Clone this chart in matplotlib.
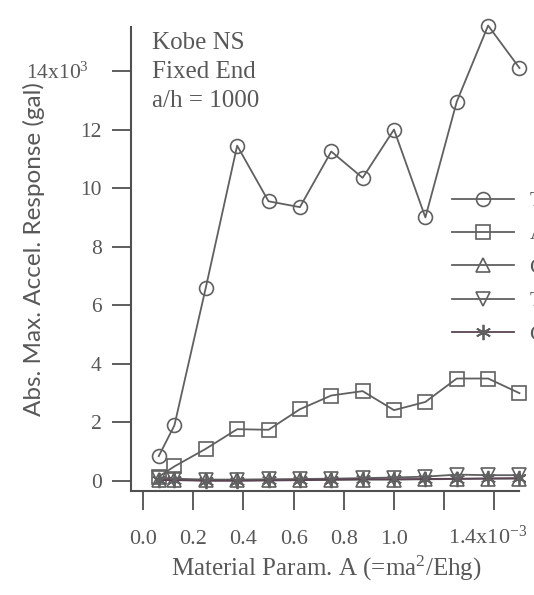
import numpy as np
import matplotlib
matplotlib.use('Agg')
import matplotlib.pyplot as plt
from matplotlib.transforms import ScaledTranslation

plt.rcParams['font.family'] = ['Liberation Serif', 'DejaVu Serif']
plt.rcParams['mathtext.fontset'] = 'custom'
plt.rcParams['mathtext.rm'] = 'Liberation Serif'
plt.rcParams['mathtext.it'] = 'Liberation Serif:italic'

# material param A (x10^-3)
x_circle = [0.0625, 0.125, 0.25, 0.375, 0.5, 0.625, 0.75, 0.875, 1.0, 1.125, 1.25, 1.375, 1.5]
y_circle = [0.85, 1.9, 6.6, 11.45, 9.55, 9.35, 11.25, 10.35, 12.0, 9.0, 12.95, 15.55, 14.1]

x_low = [0.0625, 0.125, 0.25, 0.375, 0.5, 0.625, 0.75, 0.875, 1.0, 1.125, 1.25, 1.375, 1.5]
y_square = [0.15, 0.5, 1.1, 1.77, 1.75, 2.45, 2.92, 3.07, 2.42, 2.7, 3.5, 3.5, 3.0]
y_tri_up = [0.05, 0.05, 0.02, 0.02, 0.03, 0.03, 0.04, 0.05, 0.05, 0.06, 0.07, 0.08, 0.08]
y_tri_down = [0.1, 0.08, 0.05, 0.05, 0.06, 0.07, 0.08, 0.1, 0.12, 0.15, 0.22, 0.2, 0.2]
y_star = [0.03, 0.03, 0.01, 0.01, 0.02, 0.03, 0.05, 0.06, 0.06, 0.07, 0.08, 0.09, 0.1]

labels = ['T', 'A', 'C', 'T', 'C']

x_ticks = [0.0, 0.2, 0.4, 0.6, 0.8, 1.0, 1.2, 1.4]
x_ticklabels = ['0.0', '0.2', '0.4', '0.6', '0.8', '1.0', '', '1.4x10$^{-3}$']
y_ticks = [0, 2, 4, 6, 8, 10, 12, 14]
y_ticklabels = ['0', '2', '4', '6', '8', '10', '12', '14x10$^{3}$']

gray = '#606060'
text_gray = '#585858'

fig = plt.figure(figsize=(5.34, 5.95), dpi=100)
ax = fig.add_axes([131 / 534, 1 - 491 / 595, (525 - 131) / 534, (491 - 27) / 595])

style = dict(color=gray, lw=1.3, markersize=10, markerfacecolor='none',
             markeredgecolor=gray, markeredgewidth=1.2, clip_on=False)
ax.plot(x_circle, y_circle, marker='o', label=labels[0], **style)
ax.plot(x_low, y_square, marker='s', label=labels[1], **style)
ax.plot(x_low, y_tri_up, marker='^', label=labels[2], **style)
ax.plot(x_low, y_tri_down, marker='v', label=labels[3], **style)
ax.plot(x_low, y_star, marker=(6, 2, 0), label=labels[4],
        color='#5b4453', lw=1.3, markersize=11, markeredgecolor=gray, markeredgewidth=1.3)

ax.set_xlim(-0.048, 1.522)
ax.set_ylim(-0.34, 15.5)

ax.set_xticks(x_ticks)
ax.set_xticklabels(x_ticklabels)
ax.set_yticks(y_ticks)
ax.set_yticklabels(y_ticklabels)

for s in ['top', 'right']:
    ax.spines[s].set_visible(False)
for s in ['left', 'bottom']:
    ax.spines[s].set_color('#505050')
    ax.spines[s].set_linewidth(1.5)
ax.spines['bottom'].set_bounds(-0.048, 1.5)

ax.tick_params(axis='y', direction='out', length=14, width=1.3, pad=7,
               colors='#505050', labelcolor=text_gray, labelsize=15.5)
ax.tick_params(axis='x', direction='out', length=14, width=1.3, pad=14,
               colors='#505050', labelcolor=text_gray, labelsize=16)

# the two "x10" labels sit a little left of their ticks in the original
lab = ax.get_xticklabels()[-1]
lab.set_transform(lab.get_transform() + ScaledTranslation(-0.07, 0.04, fig.dpi_scale_trans))
lab = ax.get_yticklabels()[-1]
lab.set_transform(lab.get_transform() + ScaledTranslation(-0.13, 0, fig.dpi_scale_trans))

ax.set_xlabel('Material Param. A (=ma$^2$/Ehg)', fontsize=18, color=text_gray)
ax.xaxis.set_label_coords((326 - 131) / (525 - 131), -(568 - 491) / (491 - 27))
ax.xaxis.label.set_va('center')
ax.set_ylabel('Abs. Max. Accel. Response (gal)', fontsize=17.5, color=text_gray,
              family=['Lato', 'DejaVu Sans'])
ax.yaxis.set_label_coords(-(131 - 34) / (525 - 131), (491 - 249) / (491 - 27))
ax.yaxis.label.set_va('center')

ax.text(152 / 534, 1 - 32 / 595, 'Kobe NS\nFixed End\na/h = 1000', transform=fig.transFigure,
        fontsize=18, color=text_gray, va='top', ha='left', linespacing=1.42)

leg = ax.legend(loc='upper left', bbox_to_anchor=(452 / 534, 1 - 191 / 595),
                bbox_transform=fig.transFigure, frameon=False, fontsize=15.5,
                handlelength=2.9, handletextpad=0.7, labelspacing=0.62,
                borderpad=0, borderaxespad=0)
for t in leg.get_texts():
    t.set_color(text_gray)

fig.savefig('out.png', dpi=100)
